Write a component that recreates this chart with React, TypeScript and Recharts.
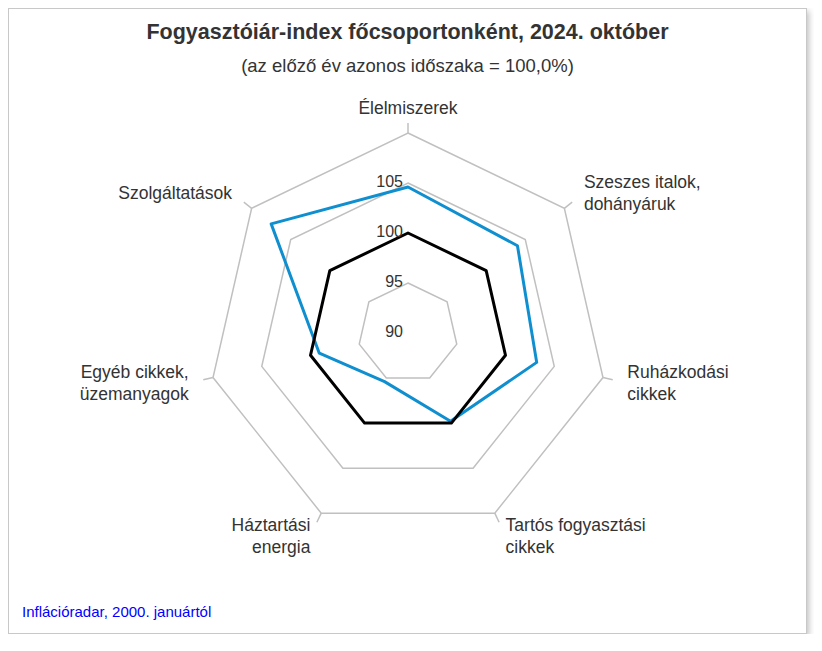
import { RadarChart, Radar, PolarGrid, PolarAngleAxis, PolarRadiusAxis } from 'recharts';

// categories (line breaks as in the original labels)
const categories = [
  'Élelmiszerek',
  'Szeszes italok,\ndohányáruk',
  'Ruházkodási\ncikkek',
  'Tartós fogyasztási\ncikkek',
  'Háztartási\nenergia',
  'Egyéb cikkek,\nüzemanyagok',
  'Szolgáltatások',
];
const indexValues = [104.6, 104.0, 103.2, 99.8, 95.4, 99.1, 107.5];
const baseValues = [100, 100, 100, 100, 100, 100, 100];
const radiusTicks = [90, 95, 100, 105, 110];

const data = categories.map((name, i) => ({ name, idx: indexValues[i], base: baseValues[i] }));

const CX = 399;
const CY = 324;
const R = 200;
const FONT = '"Liberation Sans", Arial, Helvetica, sans-serif';

function AngleTick(props: any) {
  const { payload } = props;
  const ang = (-payload.coordinate * Math.PI) / 180;
  const cos = Math.cos(ang);
  const px = CX + 225 * cos;
  const py = CY + 225 * Math.sin(ang);
  const anchor = cos > 0.1 ? 'start' : cos < -0.1 ? 'end' : 'middle';
  const lines = String(payload.value).split('\n');
  const y0 = py - ((lines.length - 1) * 22) / 2;
  return (
    <text x={px} y={y0} textAnchor={anchor} dominantBaseline="central" fill="#333" fontSize={17.5} fontFamily={FONT}>
      {lines.map((l, i) => (
        <tspan key={i} x={px} y={y0 + i * 22}>{l}</tspan>
      ))}
    </text>
  );
}

function RadiusTick(props: any) {
  const { x, y, payload } = props;
  if (payload.value === 110) return null;
  return (
    <text x={x - 5} y={y - 2} textAnchor="end" dominantBaseline="central" fill="#333" fontSize={16} fontFamily={FONT}>
      {payload.value}
    </text>
  );
}

export default function App() {
  return (
    <div
      style={{
        position: 'relative',
        width: 797,
        height: 624,
        border: '1px solid #c8c8c8',
        boxShadow: '2px 3px 6px rgba(0,0,0,0.25)',
        background: '#fff',
        fontFamily: FONT,
        color: '#333',
      }}
    >
      <div style={{ position: 'absolute', top: 10, left: 0, width: 797, textAlign: 'center', fontSize: 21.5, lineHeight: '26px', fontWeight: 'bold' }}>
        Fogyasztóiár-index főcsoportonként, 2024. október
      </div>
      <div style={{ position: 'absolute', top: 45, left: 0, width: 797, textAlign: 'center', fontSize: 18.5, lineHeight: '24px' }}>
        (az előző év azonos időszaka = 100,0%)
      </div>
      <RadarChart width={797} height={624} data={data} cx={CX} cy={CY} outerRadius={R} margin={{ top: 0, right: 0, bottom: 0, left: 0 }}>
        <PolarGrid gridType="polygon" radialLines={false} stroke="#c0c0c0" strokeWidth={1.5} />
        <PolarAngleAxis dataKey="name" axisLine={false} tickLine={{ stroke: '#c0c0c0', strokeWidth: 1.5 }} tickSize={10} tick={<AngleTick />} />
        <PolarRadiusAxis angle={90} domain={[90, 110]} ticks={radiusTicks} tickCount={5} axisLine={false} tickLine={false} tick={<RadiusTick />} />
        <Radar dataKey="idx" stroke="#0f8fcf" strokeWidth={3} fill="none" fillOpacity={0} strokeLinejoin="round" isAnimationActive={false} />
        <Radar dataKey="base" stroke="#000" strokeWidth={3} fill="none" fillOpacity={0} strokeLinejoin="round" isAnimationActive={false} />
      </RadarChart>
      <div style={{ position: 'absolute', top: 593, left: 13, fontSize: 15, lineHeight: '20px', color: '#0000ff' }}>
        Inflációradar, 2000. januártól
      </div>
    </div>
  );
}
